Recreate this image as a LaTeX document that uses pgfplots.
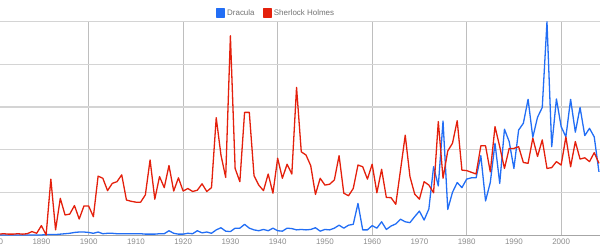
\documentclass[border=0pt]{standalone}
\usepackage{pgfplots}
\pgfplotsset{compat=1.18}
\usepackage{fontspec}
\setmainfont{Liberation Sans}
\definecolor{gblue}{RGB}{34,110,245}
\definecolor{gred}{RGB}{228,32,12}
\definecolor{hgrid}{RGB}{212,212,212}
\definecolor{vgrid}{RGB}{190,190,190}
\definecolor{tlab}{RGB}{140,140,140}
\begin{document}
\begin{tikzpicture}
\clip (0bp,0bp) rectangle (600bp,247bp);
\begin{axis}[
  at={(-53.1bp,12bp)}, anchor=south west,
  scale only axis, width=653bp, height=213.3bp,
  xmin=1870, xmax=2008.2, ymin=0, ymax=5,
  clip=false,
  axis x line*=bottom, axis y line*=left,
  x axis line style={draw=black!35, line width=0.8bp, -},
  y axis line style={draw=none},
  xtick={1880,1890,...,2000},
  minor xtick={1880,1900,...,2000},
  ytick={1,2,3,4,5}, yticklabels={},
  major tick length=0pt, minor tick length=0pt,
  xmajorgrids=false, xminorgrids=true, ymajorgrids=true,
  minor grid style={draw=vgrid, line width=0.8bp},
  major grid style={draw=hgrid, line width=1.4bp},
  xticklabel style={font=\fontsize{8}{9}\selectfont, text=tlab, /pgf/number format/1000 sep={}},
  /pgf/number format/assume math mode=true,
  legend style={draw=none, fill=none, at={(0.504,1.041)}, anchor=center,
    font=\fontsize{8}{9}\selectfont, text=black!55, legend columns=2,
    /tikz/every even column/.append style={column sep=6bp}},
  legend image code/.code={\fill[#1] (0bp,-4bp) rectangle (8bp,4bp);},
]
\addplot[color=gblue, line width=1.3bp, line join=round] coordinates {
(1880,0.0)(1881,0.0)(1882,0.0)(1883,0.0)(1884,0.0)(1885,0.0)(1886,0.0)(1887,0.0)(1888,0.0)(1889,0.0)
(1890,0.0)(1891,0.01)(1892,0.01)(1893,0.01)(1894,0.02)(1895,0.03)(1896,0.04)(1897,0.06)(1898,0.07)(1899,0.07)
(1900,0.06)(1901,0.04)(1902,0.07)(1903,0.03)(1904,0.04)(1905,0.04)(1906,0.03)(1907,0.03)(1908,0.03)(1909,0.03)
(1910,0.03)(1911,0.03)(1912,0.02)(1913,0.02)(1914,0.02)(1915,0.03)(1916,0.03)(1917,0.1)(1918,0.04)(1919,0.02)
(1920,0.02)(1921,0.04)(1922,0.03)(1923,0.1)(1924,0.05)(1925,0.07)(1926,0.04)(1927,0.12)(1928,0.17)(1929,0.09)
(1930,0.08)(1931,0.16)(1932,0.16)(1933,0.25)(1934,0.16)(1935,0.12)(1936,0.1)(1937,0.13)(1938,0.1)(1939,0.16)
(1940,0.1)(1941,0.09)(1942,0.16)(1943,0.15)(1944,0.12)(1945,0.13)(1946,0.12)(1947,0.13)(1948,0.17)(1949,0.09)
(1950,0.13)(1951,0.12)(1952,0.16)(1953,0.23)(1954,0.16)(1955,0.23)(1956,0.25)(1957,0.74)(1958,0.12)(1959,0.12)
(1960,0.22)(1961,0.16)(1962,0.31)(1963,0.13)(1964,0.21)(1965,0.26)(1966,0.37)(1967,0.31)(1968,0.29)(1969,0.43)
(1970,0.56)(1971,0.35)(1972,0.61)(1973,1.6)(1974,1.15)(1975,2.67)(1976,0.6)(1977,1.0)(1978,1.23)(1979,1.11)
(1980,1.31)(1981,1.34)(1982,1.34)(1983,1.86)(1984,0.8)(1985,1.23)(1986,2.15)(1987,1.21)(1988,2.48)(1989,2.19)
(1990,1.56)(1991,2.46)(1992,2.62)(1993,3.18)(1994,2.29)(1995,2.76)(1996,2.99)(1997,5.0)(1998,2.07)(1999,3.19)
(2000,2.54)(2001,2.3)(2002,3.18)(2003,2.41)(2004,2.99)(2005,2.33)(2006,2.5)(2007,2.3)(2008,1.48)
};
\addlegendentry{Dracula}
\addplot[color=gred, line width=1.3bp, line join=round] coordinates {
(1880,0.02)(1881,0.02)(1882,0.03)(1883,0.02)(1884,0.02)(1885,0.03)(1886,0.02)(1887,0.03)(1888,0.08)(1889,0.04)
(1890,0.22)(1891,0.0)(1892,1.31)(1893,0.12)(1894,0.86)(1895,0.47)(1896,0.49)(1897,0.69)(1898,0.375)(1899,0.68)
(1900,0.68)(1901,0.43)(1902,1.38)(1903,1.33)(1904,1.04)(1905,1.21)(1906,1.25)(1907,1.41)(1908,0.82)(1909,0.79)
(1910,0.77)(1911,0.77)(1912,0.94)(1913,1.76)(1914,0.84)(1915,1.37)(1916,1.11)(1917,1.63)(1918,1.03)(1919,1.34)
(1920,1.03)(1921,1.09)(1922,1.02)(1923,1.05)(1924,1.2)(1925,1.02)(1926,1.11)(1927,2.75)(1928,1.875)(1929,1.35)
(1930,4.67)(1931,1.56)(1932,1.25)(1933,2.875)(1934,2.875)(1935,1.39)(1936,1.17)(1937,1.04)(1938,1.43)(1939,0.98)
(1940,1.8)(1941,1.33)(1942,1.66)(1943,1.43)(1944,3.46)(1945,1.95)(1946,1.875)(1947,1.625)(1948,0.95)(1949,1.33)
(1950,1.17)(1951,1.19)(1952,1.29)(1953,1.86)(1954,0.98)(1955,0.92)(1956,1.09)(1957,1.64)(1958,1.6)(1959,1.31)
(1960,1.66)(1961,0.99)(1962,1.54)(1963,0.88)(1964,0.875)(1965,0.72)(1966,1.52)(1967,2.34)(1968,1.37)(1969,0.96)
(1970,0.84)(1971,1.25)(1972,1.17)(1973,0.99)(1974,2.66)(1975,1.33)(1976,1.97)(1977,2.15)(1978,2.68)(1979,1.52)
(1980,1.51)(1981,1.47)(1982,1.43)(1983,2.09)(1984,2.09)(1985,1.48)(1986,2.54)(1987,2.07)(1988,1.56)(1989,2.03)
(1990,2.03)(1991,2.07)(1992,1.7)(1993,1.68)(1994,2.27)(1995,1.84)(1996,2.23)(1997,1.56)(1998,1.58)(1999,1.72)
(2000,1.64)(2001,2.3)(2002,1.6)(2003,2.19)(2004,1.78)(2005,1.81)(2006,1.72)(2007,1.93)(2008,1.68)
};
\addlegendentry{Sherlock Holmes}
\end{axis}
\end{tikzpicture}
\end{document}
